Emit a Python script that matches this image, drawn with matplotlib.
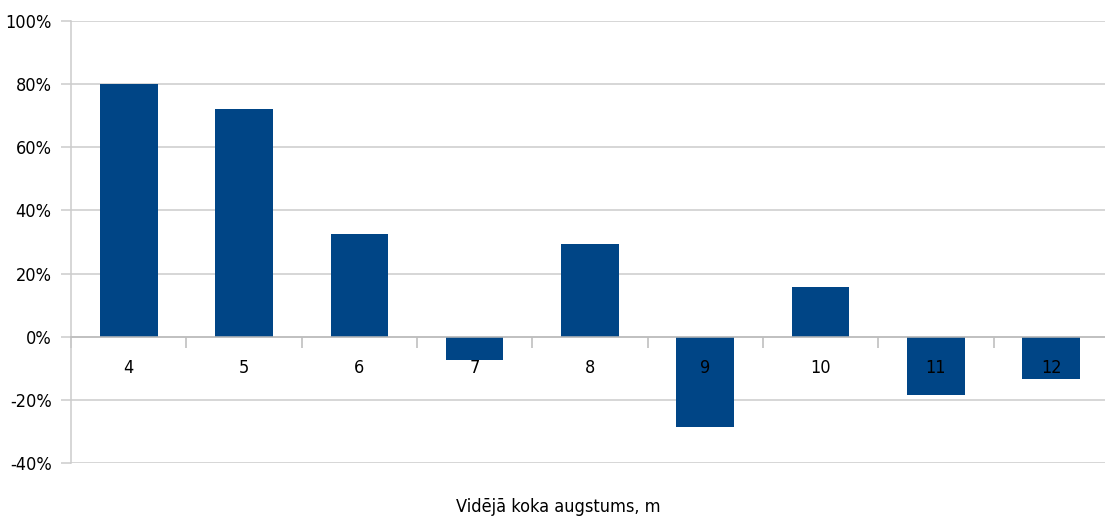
import matplotlib.pyplot as plt
from matplotlib.ticker import FixedLocator, PercentFormatter
from matplotlib import transforms

# average tree height categories and relative change (%)
heights = ["4", "5", "6", "7", "8", "9", "10", "11", "12"]
change = [80, 72, 32.6, -7.3, 29.5, -28.5, 15.8, -18.4, -13.3]

plt.rcParams['font.family'] = ['DejaVu Sans']
plt.rcParams['font.stretch'] = 'condensed'
plt.rcParams['axes.unicode_minus'] = False

fig = plt.figure(figsize=(11.05, 5.19), dpi=100)
ax = fig.add_axes([71 / 1105, 56 / 519, 1038 / 1105, 442 / 519])

pos = list(range(len(heights)))
ax.bar(pos, change, width=0.5, color="#004586", zorder=2)

ax.set_xlim(-0.5, len(heights) - 0.5)
ax.set_ylim(-40, 100)
ax.set_yticks(range(-40, 101, 20))
ax.yaxis.set_major_formatter(PercentFormatter(decimals=0))
ax.grid(axis="y", color="#cccccc", linewidth=1.1, zorder=0)
ax.set_axisbelow(True)

# zero line with ticks at category borders
ax.spines["bottom"].set_position(("data", 0))
ax.spines["bottom"].set_color("#bbbbbb")
ax.spines["bottom"].set_linewidth(1.1)
ax.xaxis.set_major_locator(FixedLocator([p + 0.5 for p in pos[:-1]] + [-0.5]))
ax.tick_params(axis="x", direction="out", length=8, width=1.1, color="#bbbbbb",
               labelbottom=False)
for s in ["top", "right"]:
    ax.spines[s].set_visible(False)
ax.spines["left"].set_color("#cccccc")
ax.spines["left"].set_linewidth(1.1)
ax.tick_params(axis="y", length=7, width=1.1, color="#cccccc", pad=7,
               labelsize=13)

# category labels just under zero line, in front of bars
off = transforms.offset_copy(ax.transData, fig=fig, y=-31, units="dots")
for p, h in zip(pos, heights):
    ax.text(p, 0, h, transform=off, ha="center", va="center", fontsize=13,
            zorder=5)

fig.text(558 / 1105, 1 - 507 / 519, "Vidējā koka augstums, m", ha="center",
         va="center", fontsize=13)

fig.savefig("out.png", dpi=100)
